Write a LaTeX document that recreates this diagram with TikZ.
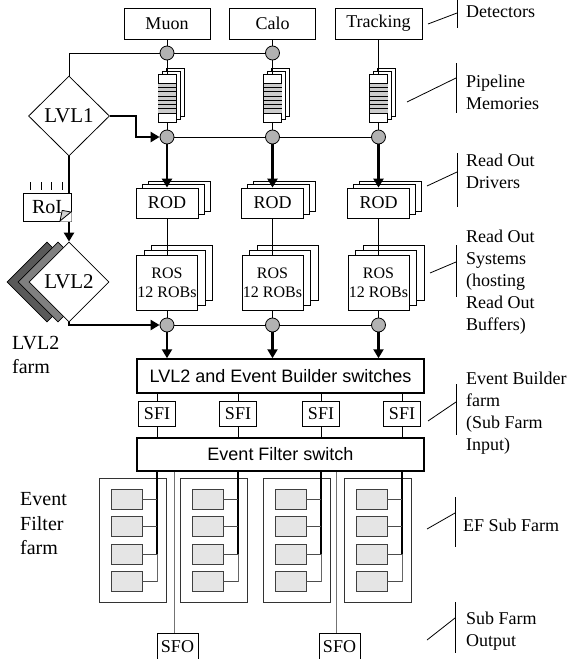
\documentclass[tikz,border=0pt]{standalone}
\usepackage{fontspec}
\setmainfont{Liberation Serif}
\setsansfont{Liberation Sans}
\usetikzlibrary{shapes.geometric,arrows.meta}
\tikzset{
  ln/.style={line width=0.8pt},
  tarr/.style={line width=2.4pt,-{Triangle[length=9pt,width=10pt]}},
  bx/.style={draw,fill=white,line width=0.8pt,inner sep=0pt,font=\fontsize{18}{21.6}\selectfont},
  dot/.style={circle,draw,fill=gray!60,minimum size=14pt,inner sep=0pt,line width=0.8pt},
  lbl/.style={anchor=west,align=left,inner sep=0pt,font=\fontsize{18}{22}\selectfont},
  llbl/.style={anchor=west,align=left,inner sep=0pt,font=\fontsize{20}{24.5}\selectfont},
  swbox/.style={draw,fill=white,line width=1.5pt,minimum width=287pt,inner sep=0pt,font=\sffamily\fontsize{18}{21.6}\selectfont},
  dia/.style={diamond,draw,line width=0.8pt,minimum width=81pt,minimum height=80pt,inner sep=0pt,font=\fontsize{21}{24}\selectfont},
}
\newcommand{\mybacks}[6]{%
  \draw[ln,fill=white] ({#1+2*(#5)},{#2+2*(#6)}) rectangle ({#3+2*(#5)},{#4+2*(#6)});
  \draw[ln,fill=white] ({#1+(#5)},{#2+(#6)}) rectangle ({#3+(#5)},{#4+(#6)});}
\begin{document}
\begin{tikzpicture}[x=1pt,y=-1pt]
\useasboundingbox (0,0) rectangle (569,659);

% detectors
\node[bx,minimum width=86pt,minimum height=31pt] (muon) at (167,23.5) {Muon};
\node[bx,minimum width=86pt,minimum height=31pt] (calo) at (272.5,23.5) {Calo};
\node[bx,minimum width=87pt,minimum height=31pt] (track) at (378.5,23.5) {Tracking};

% column elements
\foreach \c/\X in {a/167,b/272.5,c/378.5} {
  \mybacks{\X-9}{74}{\X+9}{122}{4}{-3}
  \mybacks{\X-31}{188}{\X+31}{218}{6}{-3.5}
  \mybacks{\X-30.5}{255}{\X+30.5}{310}{7.5}{-5}
  \node[draw,fill=white,ln,minimum width=18pt,minimum height=48pt,inner sep=0pt] (pipe\c) at (\X,98) {};
  \fill[gray!40] ({\X-9},83) rectangle ({\X+9},113);
  \foreach \k in {0,...,7} \draw[line width=0.6pt] ({\X-9},{83+\k*4.28}) -- ({\X+9},{83+\k*4.28});
  \node[bx,minimum width=62pt,minimum height=30pt] (rod\c) at (\X,203) {ROD};
  \node[bx,minimum width=61pt,minimum height=55pt,align=center,font=\fontsize{16}{19}\selectfont] (ros\c) at (\X,282.5) {ROS\\12 ROBs};
  \node[dot] (m\c) at (\X,137) {};
  \node[dot] (b\c) at (\X,325) {};
}
\node[dot] (ta) at (167,53) {};
\node[dot] (tb) at (272.5,53) {};

% switches
\node[swbox,minimum height=34pt] (sw1) at (280.5,376) {LVL2 and Event Builder switches};
\node[swbox,minimum height=33pt] (sw2) at (280.5,454.5) {Event Filter switch};

% vertical connections
\draw[ln] (muon) -- (ta);
\draw[ln] (ta) -- (pipea);
\draw[ln] (calo) -- (tb);
\draw[ln] (tb) -- (pipeb);
\draw[ln] (track) -- (pipec);
\foreach \c in {a,b,c} {
  \draw[ln] (pipe\c) -- (m\c);
  \draw[tarr] (m\c) -- (rod\c);
  \draw[ln] (rod\c) -- (ros\c);
  \draw[ln] (ros\c) -- (b\c);
  \draw[tarr] (b\c) -- (b\c |- sw1.north);
}
\draw[ln] (ma) -- (mb);
\draw[ln] (mb) -- (mc);
\draw[ln] (ba) -- (bb);
\draw[ln] (bb) -- (bc);

% LVL1
\node[dia,fill=white] (lvl1) at (69,116) {LVL1};
\draw[ln] (lvl1.north) |- (ta.west);
\draw[ln] (ta) -- (tb);
\draw[tarr] (lvl1.east) -- ++(26,0) |- (ma.west);

% LVL2 with shadows
\node[dia,fill=black!65,minimum width=80pt] (sh2) at (47,282) {};
\node[dia,fill=black!50,minimum width=80pt] (sh1) at (58,282) {};
\node[dia,fill=white,minimum width=80pt] (lvl2) at (69,282) {LVL2};
\draw[tarr] (lvl1.south) -- (lvl2.north);
\draw[tarr] (lvl2.south) |- (ba.west);

% RoI
\foreach \x in {30,41,51,62} \draw[ln] (\x,182) -- (\x,190);
\node[draw,fill=white,ln,minimum width=48pt,minimum height=28pt,inner sep=0pt,font=\fontsize{20}{24}\selectfont] (roi) at (47,207) {RoI};
\fill[white] (60,221.6) -- (71.6,221.6) -- (71.6,212) -- cycle;
\draw[ln,fill=gray!35,line join=round] (60,221) -- (71,212) -- (62.2,210.4) -- cycle;

% SFI
\foreach \i/\X in {1/157,2/238,3/321,4/402} {
  \node[bx,minimum width=37pt,minimum height=25pt] (sfi\i) at (\X,413.5) {SFI};
  \draw[ln] (sfi\i.north |- sw1.south) -- (sfi\i);
  \draw[ln] (sfi\i) -- (sfi\i.south |- sw2.north);
}

% EF sub farms
\foreach \i/\L in {1/99,2/180,3/263,4/344} {
  \draw[line width=0.9pt,draw=black!80] (\L,478) rectangle ({\L+67},602);
  \foreach \r [count=\k] in {499,526.5,554,581.5}
    \node[draw=black!75,fill=black!10,ln,minimum width=31pt,minimum height=20pt,inner sep=0pt] (ef\i x\k) at ({\L+27.5},\r) {};
  \coordinate (bus\i) at ({\L+58},0);
  \draw[line width=1.6pt] (sw2.south -| bus\i) -- (ef\i x3.east -| bus\i);
  \draw[ln,draw=black!60] (ef\i x3.east -| bus\i) -- (ef\i x4.east -| bus\i);
  \foreach \k in {1,...,4} \draw[ln,draw=black!70] (ef\i x\k.east) -- (ef\i x\k.east -| bus\i);
}

% SFO
\node[bx,minimum width=41pt,minimum height=27pt] (sfo1) at (177.5,646.5) {SFO};
\node[bx,minimum width=41pt,minimum height=27pt] (sfo2) at (339.5,646.5) {SFO};
\coordinate (so1) at (174,0);
\coordinate (so2) at (336,0);
\draw[line width=1pt,draw=black!55] (sw2.south -| so1) -- (sfo1.north -| so1);
\draw[line width=1pt,draw=black!55] (sw2.south -| so2) -- (sfo2.north -| so2);

% left labels
\node[llbl] (l2farm) at (12,355) {LVL2\\farm};
\node[llbl] (effarm) at (20,524) {Event\\Filter\\farm};

% right labels with brackets
\node[lbl] (t1) at (466,12) {Detectors};
\draw[ln] (457,-2) -- (457,28);
\draw[ln] (428,24) -- (457,13);
\node[lbl] (t2) at (466,92.5) {Pipeline\\Memories};
\draw[ln] (456,63) -- (456,113);
\draw[ln] (407,102) -- (456,78);
\node[lbl] (t3) at (466,171) {Read Out\\Drivers};
\draw[ln] (457,153) -- (457,207);
\draw[ln] (427,186) -- (457,172);
\node[lbl] (t4) at (466,282) {Read Out\\Systems\\(hosting\\Read Out\\Buffers)};
\draw[ln] (456,245) -- (456,297);
\draw[ln] (430,273) -- (456,262);
\node[lbl] (t5) at (466,413) {Event Builder\\farm\\(Sub Farm\\Input)};
\draw[ln] (456,384) -- (456,435);
\draw[ln] (428,421) -- (456,402);
\node[lbl] (t6) at (463,525) {EF Sub Farm};
\draw[ln] (455,497) -- (455,547);
\draw[ln] (427,529) -- (455,513);
\node[lbl] (t7) at (466,631) {Sub Farm\\Output};
\draw[ln] (455,602) -- (455,653);
\draw[ln] (427,640) -- (455,618);
\end{tikzpicture}
\end{document}
